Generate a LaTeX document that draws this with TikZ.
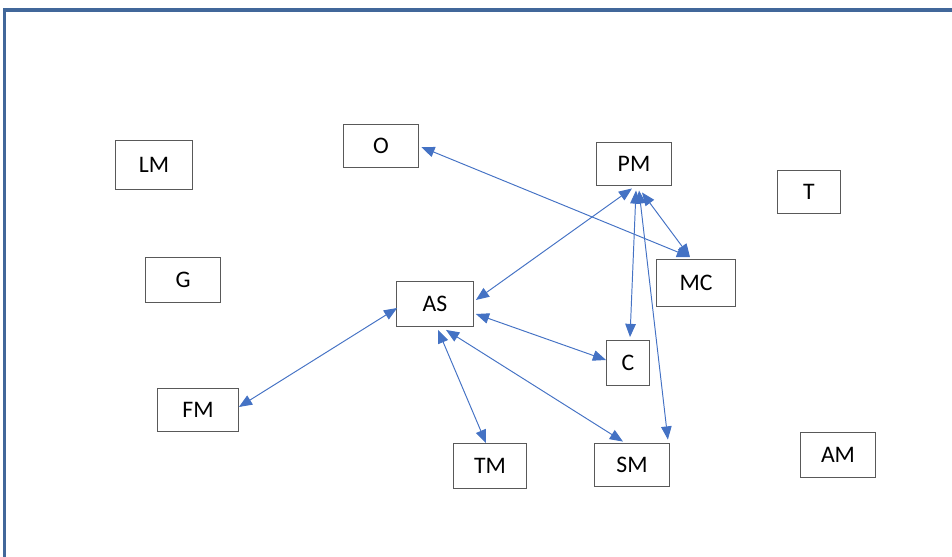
\documentclass[tikz,border=0pt]{standalone}
\usepackage{fontspec}
\setmainfont{Carlito}
\usetikzlibrary{arrows.meta,calc}
\definecolor{framecol}{HTML}{41679A}
\definecolor{linkcol}{HTML}{4472C4}
\tikzset{
  blk/.style={draw=black!65, line width=0.6pt, inner sep=0pt, text height=8.5pt, text depth=-3.2pt, font=\fontsize{13.5}{15}\selectfont},
  lnk/.style={draw=linkcol, line width=0.55pt, {Triangle[length=7.5pt,width=6pt]}-{Triangle[length=7.5pt,width=6pt]}}
}
\begin{document}
\begin{tikzpicture}[x=0.02cm,y=-0.02cm]
    \useasboundingbox (0,0) rectangle (952,557);
    \draw[framecol, line width=2pt] (4.5,557) -- (4.5,10) -- (952,10);
    % boxes
    \node[blk, minimum width=78*0.567pt, minimum height=50*0.567pt] (LM) at (154,165) {LM};
    \node[blk, minimum width=76*0.567pt, minimum height=44*0.567pt] (O) at (381,146) {O};
    \node[blk, minimum width=76*0.567pt, minimum height=45*0.567pt] (G) at (183,280) {G};
    \node[blk, minimum width=77*0.567pt, minimum height=45*0.567pt] (AS) at (435,304) {AS};
    \node[blk, minimum width=81*0.567pt, minimum height=44*0.567pt] (FM) at (198,410) {FM};
    \node[blk, minimum width=74*0.567pt, minimum height=45*0.567pt] (TM) at (490,466) {TM};
    \node[blk, minimum width=75*0.567pt, minimum height=44*0.567pt] (SM) at (632,465) {SM};
    \node[blk, minimum width=43*0.567pt, minimum height=45*0.567pt] (C) at (628,363) {C};
    \node[blk, minimum width=75*0.567pt, minimum height=44*0.567pt] (PM) at (634,164) {PM};
    \node[blk, minimum width=79*0.567pt, minimum height=47*0.567pt] (MC) at (696,283) {MC};
    \node[blk, minimum width=64*0.567pt, minimum height=44*0.567pt] (T) at (809,192) {T};
    \node[blk, minimum width=76*0.567pt, minimum height=45*0.567pt] (AM) at (838,455) {AM};
    % links
    \draw[lnk] ($(O.east)+(2,1)$) -- ($(MC.north)+(-6,-2)$);
    \draw[lnk] ($(PM.south)+(-2,2)$) -- ($(AS.east)+(2,-4)$);
    \draw[lnk] ($(PM.south)+(2,4)$) -- ($(C.north)+(2,-3)$);
    \draw[lnk] ($(PM.south)+(5,4)$) -- ($(SM.north east)+(-2,-3)$);
    \draw[lnk] ($(PM.south)+(8,6)$) -- ($(MC.north)+(-6,-2)$);
    \draw[lnk] ($(AS.east)+(2,10)$) -- ($(C.west)+(0,-3)$);
    \draw[lnk] ($(AS.south)+(3,3)$) -- ($(TM.north)+(-4,0)$);
    \draw[lnk] ($(AS.south)+(11,3)$) -- ($(SM.north)+(-9,-1)$);
    \draw[lnk] ($(AS.west)+(1,4)$) -- ($(FM.east)+(0,-3)$);
\end{tikzpicture}
\end{document}
